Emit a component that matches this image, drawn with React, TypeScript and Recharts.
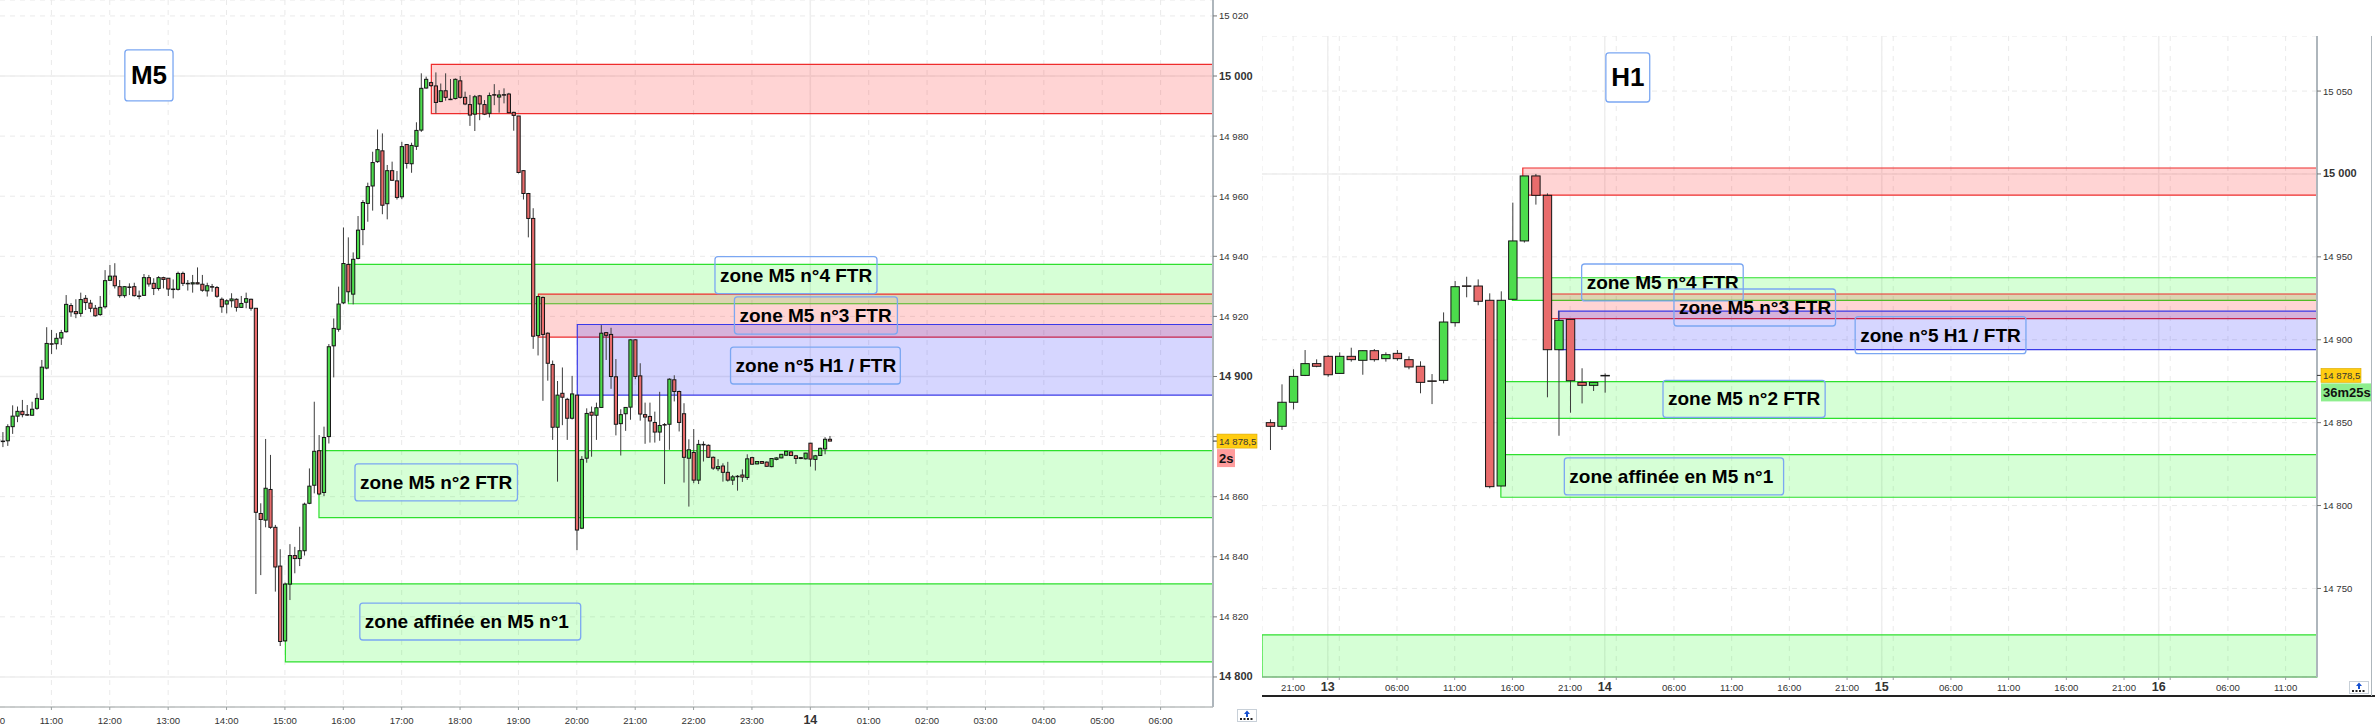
import React from 'react';
import { ComposedChart, Bar, XAxis, YAxis, CartesianGrid, ReferenceArea, ReferenceDot } from 'recharts';

const FONT = '"Liberation Sans", Arial, sans-serif';
const LAST_PRICE = 14878.5;

// ---------- M5 candles ----------
const m5Open = [14878.5,14878.5,14878.6,14883.3,14886.8,14888.4,14887.3,14887.1,14889.4,14892.4,
14902.8,14910.9,14910.9,14912.8,14914.9,14923.6,14921.6,14921,14926,14924.4,
14922.7,14920.6,14923.2,14932,14933.4,14929.9,14926.9,14929.8,14929.9,14926.8,
14927,14932.9,14931,14929.3,14932.9,14932.7,14929.1,14929,14934.3,14931,
14930.8,14931.2,14930.7,14928.5,14929.9,14929.6,14925.7,14924.1,14925.2,
14925.7,14923,14924.7,14925.7,14922.7,14854.4,14852.2,14862.4,14849.8,14836.9,
14812,14830.9,14840.4,14839.4,14842,14857.8,14863.8,14875.3,14861.4,14880,
14910.2,14915.7,14924.5,14937.3,14927.4,14939.3,14948.9,14957.6,14963.4,14971.5,
14975.1,14957.5,14968.5,14965.1,14959.8,14977.2,14970.8,14976.6,14982,14996,
14997.8,14996.7,14991.5,14995.1,14992.3,14992.5,14998.4,14992.9,14990.5,14987.3,
14993.4,14990.5,14987.6,14993.8,14993,14993.8,14994,14987.9,14986.7,14968.5,
14960.9,14952.6,14913.6,14926.3,14914.4,14904,14883.1,14894.4,14892.4,14886.1,14893.8,
14849.5,14872.8,14888.1,14887.1,14889.7,14914.6,14914,14899.9,14884.3,14887.6,
14889.8,14912.2,14900.2,14887.3,14886.7,14884.7,14881.5,14884,14884.1,14898.9,
14895,14887.6,14872.8,14874.7,14865.5,14877.4,14877.1,14873.1,14869.3,14870.2,
14868.1,14865.5,14866.8,14867.2,14866.4,14873,14870.9,14871.7,14871.5,14870,
14872.4,14872.9,14873.8,14874.9,14873.6,14873,14872.6,14877.8,14872.4,14873.7,
14875.9,14879.1];
const m5Close = [14879,14878.4,14883.3,14886.8,14888.4,14887.3,14887.2,14889.1,14892.7,14903.1,
14911,14910.8,14912.7,14914.6,14924,14921.5,14920.9,14925.6,14924.6,14922.7,
14920.2,14923,14931.9,14933.4,14930.2,14926.9,14929.9,14929.7,14926.9,14926.7,
14932.9,14930.8,14929.3,14932.9,14932.3,14929.1,14929,14934.3,14931,14930.9,
14931.2,14930.8,14928.7,14930.2,14929.8,14926.7,14923.2,14925.2,14925.8,
14923,14924.3,14925.9,14922.7,14854.8,14852.4,14862.8,14849.8,14836.6,14811.8,
14830.9,14840.4,14839.4,14842,14857.5,14863.5,14875.1,14860.9,14879.7,14909.9,
14916,14924.1,14937.6,14928.2,14939,14948.7,14957.9,14963.2,14971.2,14975.5,
14957,14968.5,14965.3,14959.6,14976.5,14970.9,14976.9,14981.9,14995.9,14998.9,
14996.8,14991.2,14995.1,14992.9,14992.2,14998.9,14992.9,14990.7,14987,14993.1,
14990.7,14987.3,14993.5,14993.7,14993.7,14993.7,14987.8,14986.9,14967.9,14960.9,
14952.6,14913.4,14926.6,14914,14904.4,14883.1,14893.8,14893.1,14886.1,14894.2,14848.9,
14872.4,14887.7,14887.1,14889.6,14914.4,14913.7,14900,14884.1,14887.3,14889.7,
14912.2,14900,14887.5,14886.5,14885.2,14881.5,14883.7,14883.9,14899.1,14895,
14884.7,14873.1,14875.6,14865.5,14877.4,14877.3,14873.1,14869.5,14870,14868.1,
14865.5,14866.6,14866.7,14866.5,14872.6,14870.8,14871.7,14871.1,14870.1,14872.7,
14872.9,14874.1,14875.1,14873.7,14872.7,14872.7,14874.5,14872.5,14873.6,14876.1,
14879.1,14878.5];
const m5High = [14879,14881.5,14884.1,14890.4,14890,14892.2,14890.5,14891.6,14894.4,14905.5,
14916.4,14915.5,14914.4,14915.5,14927.1,14924.4,14925.7,14927.9,14927.1,14925.5,
14923.8,14926.8,14935.4,14937.1,14937.7,14932.1,14930.1,14931,14931.2,14928.6,
14934.1,14933.8,14932.7,14933.4,14933.2,14932.7,14932.3,14934.9,14934.9,14932.1,
14933.8,14936.3,14933.8,14931.2,14930.8,14930.1,14926.3,14925.7,14927.7,
14926,14926.8,14927.9,14925.9,14922.7,14857.8,14879.2,14873.9,14850.6,14842.5,
14831.4,14844.2,14843.3,14850,14858,14869.4,14891.6,14880.5,14883.3,14910.8,
14919.3,14929.9,14949.6,14946.3,14941.3,14953.4,14958.7,14964.5,14974.8,14982.2,
14980.9,14970.4,14971.5,14968.4,14978.1,14977.3,14977.8,14984.6,15000.9,14999.8,
14998.1,15001.2,14997.5,15000.9,14999,14999.2,15000,14994.8,14993.7,14993.7,
14993.7,14992,14994.5,14997.3,14995.3,14995.9,14994.4,14988.1,14986.7,14968.7,
14961.1,14956,14926.8,14926.6,14914.7,14905.3,14898.5,14903,14892.9,14900.2,14893.8,
14873.5,14889.4,14890,14891.3,14917.1,14914.8,14916.2,14905.8,14889.1,14889.8,
14912.4,14912.4,14904.4,14891.3,14891.3,14888.3,14894.9,14884.5,14899.4,14900.4,
14895.3,14891.1,14879.1,14882.5,14878.9,14878.4,14877.4,14873.4,14872.5,14871.1,
14871.6,14867.2,14867.2,14869.1,14874.1,14873.3,14871.8,14871.8,14871.7,14872.8,
14873.1,14874.2,14875.2,14875.1,14873.9,14873.2,14874.6,14877.9,14873.9,14876.3,
14879.8,14880.2];
const m5Low = [14875,14876.5,14876.9,14880.9,14884.8,14886.4,14886.9,14887,14888.9,14892.2,
14902.4,14907.5,14909,14910.5,14914.6,14919.9,14919.4,14919.9,14922.1,14921.4,
14919.9,14920.2,14922.6,14931.9,14929.3,14926.2,14926.2,14927.1,14926.6,14925.7,
14926.8,14929.9,14927.1,14928.6,14929.3,14926.8,14926,14928.6,14930.1,14928.6,
14927.9,14930.7,14928.2,14926.6,14928.2,14926.2,14921.2,14921,14923,
14921.6,14922.8,14922.7,14921.9,14827.6,14833.9,14849.8,14849.3,14828.4,14810.3,
14811.8,14825.6,14834.5,14836.9,14840.4,14857.5,14861.1,14860.5,14860.2,14877.7,
14899.7,14914.9,14924.1,14924.9,14924,14939,14943.7,14951.5,14955.2,14971.1,
14954,14952.3,14965.1,14958.9,14959,14969.2,14967.8,14975.4,14981.4,14995.8,
14996.4,14987.6,14991.3,14991.8,14992,14992.2,14992.5,14990.3,14983.4,14981.7,
14985.3,14987,14986.2,14990.3,14987.8,14990.9,14987.6,14981.8,14967.6,14958.9,
14946.3,14909.2,14907,14891.9,14898.6,14878.9,14865,14883.8,14878.9,14885.7,14842.2,
14849.2,14871.3,14873.3,14878.9,14889.5,14905.5,14895.9,14880.4,14873.7,14881.9,
14885.6,14899.1,14885.3,14877.6,14878,14878,14878.6,14864.2,14875.6,14891.7,
14881.7,14864.7,14856.7,14864.5,14864.2,14871.7,14872.9,14868.9,14868.5,14865,
14865,14863.9,14862,14864.9,14865.6,14870.6,14870.8,14871,14870,14869.8,
14872.1,14872.8,14873.7,14873.6,14870.9,14872.5,14872.4,14870,14868.7,14873.6,
14874.1,14878.5];

// ---------- H1 candles ----------
const h1Open = [14850,14847.8,14862.3,14878.5,14885.6,14890,14879.7,14890,14887.6,14893.4,14888.6,14891.8,14888,14884,14875.2,14875.5,14910.3,14932.5,14932.4,14923.8,14811.8,14924.4,14959.6,14998.8,14987.1,14894,14912.3,14874.3,14872.5,14878.4];
const h1Close = [14847.8,14862.3,14877.9,14885.6,14884,14878.9,14890,14888,14893.4,14888,14891,14888.6,14883.6,14874.3,14875.1,14910.7,14932,14932.4,14923.2,14811.4,14923.8,14959.6,14998.8,14987.1,14894,14911.7,14875.3,14872.5,14874.3,14878.5];
const h1High = [14852,14873.1,14882.2,14893.8,14888.2,14890.8,14892.4,14895.2,14893.6,14894.4,14892.4,14893.8,14890,14887,14879.3,14916.5,14935.4,14938,14936.4,14928,14929.2,14982.7,14998.8,15000,14988.3,14917.3,14912.3,14882.8,14874.3,14879.7];
const h1Low = [14833.5,14845.6,14858,14878.1,14883.4,14877.7,14879.5,14886.8,14878.9,14886.8,14886.8,14887.4,14882.2,14867.7,14861.2,14873.7,14907.9,14925.6,14920.8,14810.4,14811.6,14924,14958.6,14981.5,14865.3,14842.1,14856,14861.6,14869.1,14868.1];

// ---------- axes ----------
const m5XDomain = [-6.787, 250.77];
const m5YDomain = [14790, 15025.3];
const m5XTicks = [0,12,24,36,48,60,72,84,96,108,120,132,144,156,168,180,192,204,216,228,240];
const m5XLabels = ['10:00','11:00','12:00','13:00','14:00','15:00','16:00','17:00','18:00','19:00','20:00','21:00','22:00','23:00','14','01:00','02:00','03:00','04:00','05:00','06:00'];
const m5YTicks = [14800,14820,14840,14860,14880,14900,14920,14940,14960,14980,15000,15020];
const m5BoldPrices = [14800,14900,15000];
const m5DaySlots = [168];
const m5CoveredPrices = [14880]; // its label lies under the last-price flag in the reference

const h1XDomain = [0.303, 91.72];
const h1YDomain = [14696.6, 15083.2];
const h1XTicks = [3,6,7,12,17,22,27,30,31,36,41,46,51,54,55,60,65,70,75,78,79,84,89];
const h1XLabels = ['21:00','13','','06:00','11:00','16:00','21:00','14','','06:00','11:00','16:00','21:00','15','','06:00','11:00','16:00','21:00','16','','06:00','11:00'];
const h1YTicks = [14750,14800,14850,14900,14950,15000,15050];
const h1BoldPrices = [15000];
const h1DaySlots = [6,30,54,78];
const h1CoveredPrices: number[] = [];

// ---------- zones: [kind, from-slot, top price, bottom price] ----------
const m5Zones: any[] = [
  ['green', 60.1, 14831, 14805],
  ['green', 67, 14875.3, 14853],
  ['green', 73.05, 14937.3, 14924.2],
  ['red', 90.1, 15003.9, 14987.5],
  ['red', 112.1, 14927.4, 14913.1],
  ['blue', 120.1, 14917.3, 14893.8],
];
const h1Zones: any[] = [
  ['green', 0.303, 14722, 14696.6],
  ['green', 21, 14830.7, 14805],
  ['green', 21, 14874.7, 14852.6],
  ['green', 22, 14937.4, 14923.8],
  ['red', 22.9, 15003.6, 14987.2],
  ['red', 25, 14927.6, 14912.7],
  ['blue', 26, 14917.3, 14894],
];

// ---------- annotations: [text, x1, x2, top price, bottom price] ----------
const m5Notes: any[] = [
  ['zone M5 n°4 FTR', 148.4, 181.7, 14939.9, 14927.6],
  ['zone M5 n°3 FTR', 152.4, 185.9, 14926.5, 14914.1],
  ['zone n°5 H1 / FTR', 151.6, 186.5, 14909.8, 14897.5],
  ['zone M5 n°2 FTR', 74.4, 107.8, 14870.9, 14858.6],
  ['zone affinée en M5 n°1', 75.4, 120.8, 14824.6, 14812.3],
];
const h1Notes: any[] = [
  ['zone M5 n°4 FTR', 28, 42, 14945.7, 14923.4],
  ['zone M5 n°3 FTR', 36, 50, 14930.6, 14908.3],
  ['zone n°5 H1 / FTR', 51.7, 66.5, 14913.9, 14891.6],
  ['zone M5 n°2 FTR', 35.05, 49.1, 14875.5, 14853.1],
  ['zone affinée en M5 n°1', 26.5, 45.5, 14828.7, 14806.4],
];
const m5Title: any[] = ['M5', 27.1, 37, 15008.7, 14991.7];
const h1Title: any[] = ['H1', 30.1, 33.9, 15073, 15043.4];

const ZONE_STYLE: any = {
  green: { fill: 'rgba(0,255,0,0.16)', stroke: '#2ee02e' },
  red: { fill: 'rgba(255,0,0,0.17)', stroke: '#ee2c2c' },
  blue: { fill: 'rgba(0,0,255,0.16)', stroke: '#3a3ae8' },
};

const rows = (o: number[], h: number[], l: number[], c: number[]) =>
  o.map((v, i) => ({ slot: i + 1, open: v, high: h[i], low: l[i], close: c[i], range: [l[i], h[i]] }));

const Candle = (props: any) => {
  const { x, y, width, height, payload } = props;
  if (payload == null || !height) return null;
  const k = height / (payload.high - payload.low);
  const up = payload.close >= payload.open;
  const top = y + (payload.high - Math.max(payload.open, payload.close)) * k;
  const bottom = y + (payload.high - Math.min(payload.open, payload.close)) * k;
  const cx = x + width / 2;
  return (
    <g>
      <line x1={cx} x2={cx} y1={y} y2={y + height} stroke="#3c3c3c" strokeWidth={1} />
      <rect x={x} y={top} width={width} height={Math.max(bottom - top, 0.5)} fill={up ? '#4cdc4c' : '#e96c6c'} stroke="#151515" strokeWidth={1} />
    </g>
  );
};

const NoteShape = (text: string, size: number, pad: number, center: boolean) => (p: any) => (
  <g>
    <rect x={p.x} y={p.y} width={p.width} height={p.height} rx={3} ry={3} fill={center ? '#fff' : 'none'} stroke="#7ba7f2" strokeWidth={1.3} />
    <text x={center ? p.x + p.width / 2 : p.x + pad} y={p.y + p.height / 2 + size * 0.34} textAnchor={center ? 'middle' : 'start'}
      fontFamily={FONT} fontWeight={700} fontSize={size} fill="#000">{text}</text>
  </g>
);

const fmtPrice = (v: number) => {
  const s = String(v);
  return s.slice(0, 2) + ' ' + s.slice(2);
};

const YTick = (bold: number[], covered: number[]) => (p: any) => {
  const v = p.payload.value;
  const b = bold.includes(v);
  if (covered.includes(v)) return <g />;
  return (
    <text x={p.x} y={p.y + 3.5} textAnchor="start" fontFamily={FONT} fontWeight={b ? 700 : 400} fontSize={b ? 11 : 9.6} fill="#333">{fmtPrice(v)}</text>
  );
};

const XTick = (ticks: number[], labels: string[], dy: number) => (p: any) => {
  const label = labels[ticks.indexOf(p.payload.value)] ?? '';
  const day = label.length === 2;
  return (
    <text x={p.x} y={p.y + dy} textAnchor="middle" fontFamily={FONT} fontWeight={day ? 700 : 400} fontSize={day ? 12.5 : 9.6} fill="#333">{label}</text>
  );
};

const PriceFlag = (timer: string, timerBg: string, timerW: number, flagW: number) => (p: any) => (
  <g fontFamily={FONT}>
    <line x1={p.cx} x2={p.cx + 4} y1={p.cy} y2={p.cy} stroke="#333" strokeWidth={1} />
    <rect x={p.cx + 4} y={p.cy - 7} width={flagW} height={14} fill="#ffcc11" stroke="#d9a800" strokeWidth={0.6} />
    <text x={p.cx + 6} y={p.cy + 3.5} fontSize={9.6} fill="#333">14 878,5</text>
    <rect x={p.cx + 4} y={p.cy + 8} width={timerW} height={18} fill={timerBg} />
    <text x={p.cx + 6} y={p.cy + 21.5} fontSize={13} fontWeight={700} fill="#111">{timer}</text>
  </g>
);

const Panel = (c: any) => (
  <div style={{ position: 'absolute', left: c.left, top: c.top }}>
    <ComposedChart width={c.width} height={c.height} data={c.data} margin={{ top: 0, right: 0, bottom: 0, left: 0 }}>
      <CartesianGrid stroke="#eaeaea" strokeDasharray="5 5" />
      <CartesianGrid stroke="#eeeeee" strokeWidth={1.5} horizontalValues={c.bold} verticalValues={c.days} />
      <XAxis dataKey="slot" type="number" scale="linear" domain={c.xDomain} ticks={c.xTicks} interval={0} allowDataOverflow
        height={c.xHeight} tickSize={3} stroke="#9aa0a0" tick={XTick(c.xTicks, c.xLabels, c.xDy)} />
      <YAxis orientation="right" type="number" domain={c.yDomain} ticks={c.yTicks} interval={0} allowDataOverflow width={c.yWidth}
        tickSize={4} tickMargin={2} stroke="#aeb6bc" axisLine={{ stroke: '#aeb6bc', strokeWidth: 2 }} tickLine={{ stroke: '#777' }} tick={YTick(c.bold, c.covered)} />
      {c.zones.map((z: any, i: number) => (
        <ReferenceArea key={'z' + i} x1={z[1]} x2={c.xDomain[1]} y1={z[2]} y2={z[3]} fill={ZONE_STYLE[z[0]].fill} fillOpacity={1} stroke={ZONE_STYLE[z[0]].stroke} strokeWidth={1.2} />
      ))}
      <Bar dataKey="range" barSize={c.barSize} isAnimationActive={false} shape={Candle} />
      {c.notes.map((n: any, i: number) => (
        <ReferenceArea key={'n' + i} x1={n[1]} x2={n[2]} y1={n[3]} y2={n[4]} shape={NoteShape(n[0], 19, 5, false)} />
      ))}
      <ReferenceArea x1={c.title[1]} x2={c.title[2]} y1={c.title[3]} y2={c.title[4]} shape={NoteShape(c.title[0], 26, 5, true)} />
      <ReferenceDot x={c.xDomain[1]} y={LAST_PRICE} ifOverflow="visible" shape={PriceFlag(c.timer, c.timerBg, c.timerW, c.flagW)} />
    </ComposedChart>
  </div>
);

const Pin = ({ left, top }: any) => (
  <svg style={{ position: 'absolute', left, top }} width={20} height={13}>
    <rect x={0.5} y={0.5} width={19} height={12} fill="#fff" stroke="#c8d0d8" />
    <path d="M10 1.5 L13 5 L11 5 L11 8 L9 8 L9 5 L7 5 Z" fill="#1650d0" />
    <path d="M3 10 h2 M6.5 10 h2 M10 10 h2 M13.5 10 h2" stroke="#222" strokeWidth={2} />
  </svg>
);

export default function App() {
  return (
    <div style={{ position: 'absolute', left: 0, top: 0, width: 2375, height: 726, overflow: 'hidden', background: '#fff' }}>
      <Panel left={-40} top={0} width={1300} height={726} xHeight={19} yWidth={47} xDy={12} data={rows(m5Open, m5High, m5Low, m5Close)}
        xDomain={m5XDomain} yDomain={m5YDomain} xTicks={m5XTicks} xLabels={m5XLabels} yTicks={m5YTicks} bold={m5BoldPrices} covered={m5CoveredPrices} days={m5DaySlots}
        zones={m5Zones} notes={m5Notes} title={m5Title} barSize={3.2} timer="2s" timerBg="#ff9c9c" timerW={18} flagW={40} />
      <Panel left={1262} top={36} width={1113} height={690} xHeight={49} yWidth={58} xDy={9} data={rows(h1Open, h1High, h1Low, h1Close)}
        xDomain={h1XDomain} yDomain={h1YDomain} xTicks={h1XTicks} xLabels={h1XLabels} yTicks={h1YTicks} bold={h1BoldPrices} covered={h1CoveredPrices} days={h1DaySlots}
        zones={h1Zones} notes={h1Notes} title={h1Title} barSize={8.4} timer="36m25s" timerBg="#8eee8e" timerW={50} flagW={40} />
      <div style={{ position: 'absolute', left: 1262, top: 695, width: 1113, height: 2, background: '#222' }} />
      <div style={{ position: 'absolute', left: 2371, top: 36, width: 1, height: 660, background: '#aeb6bc' }} />
      <Pin left={1237} top={709} />
      <Pin left={2349} top={681} />
    </div>
  );
}
